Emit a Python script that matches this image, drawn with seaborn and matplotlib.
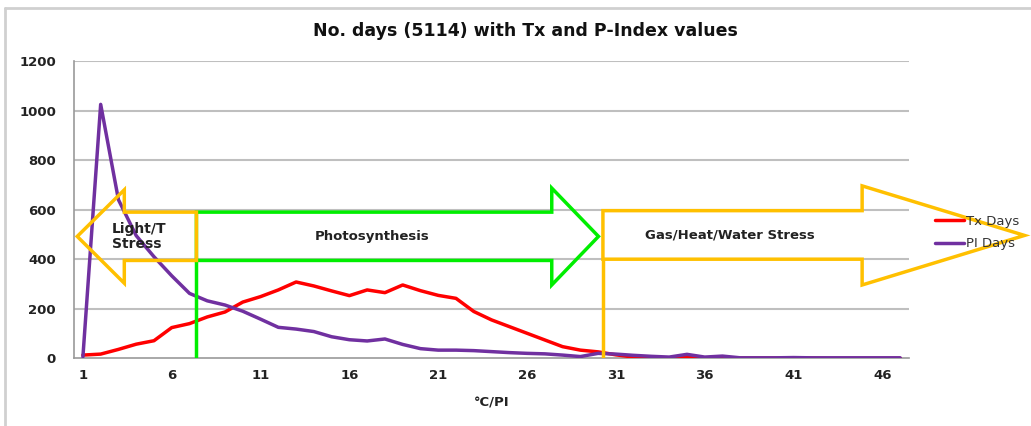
import matplotlib
matplotlib.use("Agg")
import matplotlib.pyplot as plt
from matplotlib.patches import Polygon
from matplotlib.lines import Line2D
import numpy as np
import pandas as pd
import seaborn as sns

# values
categories = list(range(1, 48))
tx_days = [13, 17, 36, 57, 71, 124, 140, 167, 187, 227,
           249, 276, 308, 292, 272, 253, 276, 265, 296, 273,
           254, 242, 189, 155, 128, 101, 74, 47, 33, 26,
           14, 5, 2, 2, 3, 2, 3, 1, 1, 1,
           1, 1, 0, 0, 0, 0, 0]
pi_days = [6, 1025, 640, 495, 410, 333, 262, 232, 215, 190,
           158, 125, 118, 108, 87, 75, 70, 78, 56, 39,
           33, 33, 31, 27, 23, 20, 18, 13, 7, 20,
           17, 12, 8, 5, 16, 5, 9, 2, 2, 2,
           3, 2, 2, 2, 2, 2, 2]
x_ticks = [1, 6, 11, 16, 21, 26, 31, 36, 41, 46]
y_ticks = [0, 200, 400, 600, 800, 1000, 1200]

df = pd.DataFrame({"cat": categories, "Tx Days": tx_days, "PI Days": pi_days})

sns.set_style("white")
plt.rcParams['font.family'] = ['DejaVu Sans']

fig = plt.figure(figsize=(10.31, 4.26), dpi=100)
ax = fig.add_axes([0.0718, 0.1589, 0.8099, 0.6979])

grid_col = "#bfbfbf"
for v in y_ticks[1:]:
    ax.axhline(v, color=grid_col, lw=1.5, zorder=0)

sns.lineplot(data=df, x="cat", y="Tx Days", color="#ff0000", lw=2.5, ax=ax, zorder=3)
sns.lineplot(data=df, x="cat", y="PI Days", color="#7030a0", lw=2.5, ax=ax, zorder=4)

ax.set_xlim(0.5, 47.5)
ax.set_ylim(0, 1200)
ax.set_xticks(x_ticks)
ax.set_xticks(np.arange(0.5, 48, 1), minor=True)
ax.set_yticks(y_ticks)
ax.tick_params(axis="x", which="major", length=0, pad=8, labelsize=9.5, labelcolor="#222222")
ax.tick_params(axis="x", which="minor", length=5, color="#888888", width=1, direction="out")
ax.tick_params(axis="y", length=5, color="#888888", width=1, direction="out", pad=8,
               labelsize=9.5, labelcolor="#222222")
for lab in ax.get_xticklabels() + ax.get_yticklabels():
    lab.set_fontweight("bold")
for s in ["top", "right"]:
    ax.spines[s].set_visible(False)
for s in ["left", "bottom"]:
    ax.spines[s].set_color("#999999")
    ax.spines[s].set_linewidth(1.2)
ax.set_ylabel("")
ax.set_xlabel("°C/PI", fontsize=9.5, fontweight="bold", color="#222222", labelpad=10)
fig.text(525 / 1031, 1 - 31 / 426, "No. days (5114) with Tx and P-Index values",
         ha="center", va="center", fontsize=12.5, fontweight="bold", color="#111111")

# annotation arrows
orange = "#ffc000"
green = "#00ee00"
left_arrow = [(0.68, 492), (3.33, 680), (3.33, 590), (7.39, 590), (7.39, 395),
              (3.33, 395), (3.33, 303)]
green_arrow = [(7.39, 590), (27.39, 590), (27.39, 687), (30.02, 492), (27.39, 296),
               (27.39, 395), (7.39, 395)]
right_arrow = [(30.27, 596), (44.86, 596), (44.86, 696), (54.0, 496), (44.86, 296),
               (44.86, 400), (30.27, 400)]
ax.add_patch(Polygon(green_arrow, closed=True, fill=False, ec=green, lw=2.5, zorder=5,
                     clip_on=False))
ax.plot([7.39, 7.39], [0, 395], color=green, lw=2.5, zorder=5)
ax.add_patch(Polygon(left_arrow, closed=True, fill=False, ec=orange, lw=2.5, zorder=6,
                     clip_on=False))
ax.add_patch(Polygon(right_arrow, closed=True, fill=False, ec=orange, lw=2.5, zorder=5,
                     clip_on=False))
ax.plot([30.27, 30.27], [0, 400], color=orange, lw=2.5, zorder=5)

ax.text(2.63, 492, "Light/T\nStress", ha="left", va="center", fontsize=10,
        fontweight="bold", color="#222222", zorder=7, linespacing=1.1)
ax.text(17.27, 492, "Photosynthesis", ha="center", va="center", fontsize=9.5,
        fontweight="bold", color="#222222", zorder=7)
ax.text(37.4, 496, "Gas/Heat/Water Stress", ha="center", va="center", fontsize=9.5,
        fontweight="bold", color="#222222", zorder=7, clip_on=False)

handles = [Line2D([], [], color="#ff0000", lw=2.5), Line2D([], [], color="#7030a0", lw=2.5)]
fig.legend(handles, ["Tx Days", "PI Days"], loc="upper left",
           bbox_to_anchor=(928 / 1031, 1 - 208 / 426), frameon=False, fontsize=9.5,
           handlelength=2.2, handletextpad=0.2, labelspacing=0.75, borderpad=0,
           labelcolor="#333333")

# chart area frame
fig.add_artist(Line2D([5 / 1031, 1], [1 - 8 / 426, 1 - 8 / 426], transform=fig.transFigure,
                      color="#d0d0d0", lw=2))
fig.add_artist(Line2D([5 / 1031, 5 / 1031], [0, 1 - 8 / 426], transform=fig.transFigure,
                      color="#d0d0d0", lw=2))

fig.savefig("out.png", dpi=100)
